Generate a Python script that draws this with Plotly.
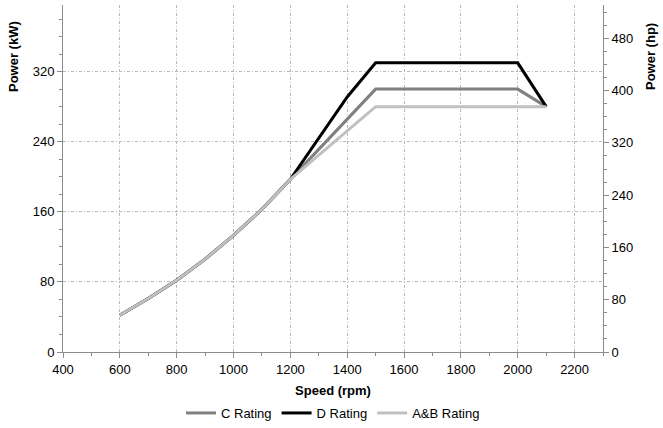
import plotly.graph_objects as go

speed_rpm = [600, 700, 800, 900, 1000, 1100, 1200, 1400, 1500, 2000, 2100]
c_rating_kw = [42, 61, 82, 106, 133, 163, 197, 266, 300, 300, 280]
d_rating_kw = [42, 61, 82, 106, 133, 163, 197, 291, 330, 330, 280]
ab_rating_kw = [42, 61, 82, 106, 133, 163, 197, 253, 280, 280, 280]

series_names = ["C Rating", "D Rating", "A&B Rating"]
series_colors = ["#808080", "#000000", "#c0c0c0"]

KW_TO_HP = 1.341
kw_max = 396

font_family = "Liberation Sans, Arial, sans-serif"

fig = go.Figure()
for name, vals, col in zip(series_names, [c_rating_kw, d_rating_kw, ab_rating_kw], series_colors):
    fig.add_trace(go.Scatter(x=speed_rpm, y=vals, name=name, mode="lines",
                             line=dict(color=col, width=3)))

# invisible trace to drive the secondary hp axis
fig.add_trace(go.Scatter(x=speed_rpm, y=[v * KW_TO_HP for v in c_rating_kw], yaxis="y2",
                         mode="lines", line=dict(width=0, color="rgba(0,0,0,0)"),
                         showlegend=False, hoverinfo="skip"))

axis_line = "#8c8c8c"
grid_col = "#b8b8b8"
grid_dash = "3px,2px,1px,2px"

fig.update_layout(
    width=663, height=428,
    margin=dict(l=63, r=60, t=5, b=76, autoexpand=False),
    paper_bgcolor="white", plot_bgcolor="white",
    font=dict(family=font_family, size=13, color="#000"),
    showlegend=True,
    legend=dict(orientation="h", x=0.5, xanchor="center", xref="paper",
                y=(428 - 413) / 428, yanchor="middle", yref="container",
                font=dict(size=13), itemwidth=30, tracegroupgap=0),
    xaxis=dict(range=[400, 2300], dtick=200, tick0=400,
               showline=True, linecolor=axis_line, linewidth=1,
               ticks="outside", ticklen=5, tickcolor=axis_line,
               minor=dict(dtick=100, ticks="outside", ticklen=3, tickcolor=axis_line, showgrid=False),
               showgrid=True, gridcolor=grid_col, griddash=grid_dash, gridwidth=1,
               zeroline=False,
               title=dict(text="<b>Speed (rpm)</b>", font=dict(size=13), standoff=14),
               tickfont=dict(size=13)),
    yaxis=dict(range=[0, kw_max], dtick=80, tick0=0,
               showline=True, linecolor=axis_line, linewidth=1,
               ticks="outside", ticklen=5, tickcolor=axis_line,
               minor=dict(dtick=20, ticks="outside", ticklen=3, tickcolor=axis_line, showgrid=False),
               showgrid=True, gridcolor=grid_col, griddash=grid_dash, gridwidth=1,
               zeroline=False,
               tickfont=dict(size=13)),
    yaxis2=dict(range=[0, kw_max * KW_TO_HP], dtick=80, tick0=0,
                overlaying="y", side="right",
                showline=True, linecolor=axis_line, linewidth=1,
                ticks="outside", ticklen=5, tickcolor=axis_line,
                minor=dict(dtick=20, ticks="outside", ticklen=3, tickcolor=axis_line, showgrid=False),
                showgrid=False, zeroline=False,
                tickfont=dict(size=13)),
    annotations=[
        dict(text="<b>Power (kW)</b>", xref="paper", yref="paper", x=(14 - 63) / 540, y=(352 - 57) / 347,
             xanchor="center", yanchor="middle", textangle=-90, showarrow=False,
             font=dict(size=13)),
        dict(text="<b>Power (hp)</b>", xref="paper", yref="paper", x=(651 - 63) / 540, y=(352 - 57) / 347,
             xanchor="center", yanchor="middle", textangle=-90, showarrow=False,
             font=dict(size=13)),
    ],
)

fig.write_html("out.html", config={"displayModeBar": False},
               post_script="document.body.style.margin='0';")
